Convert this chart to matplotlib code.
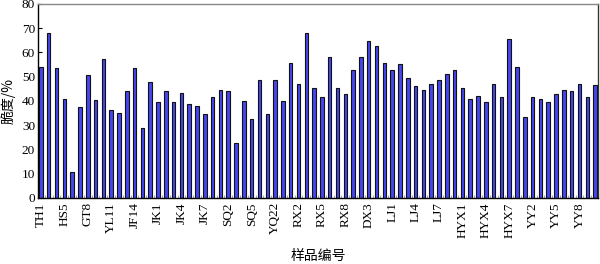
import numpy as np
import matplotlib.pyplot as plt
from matplotlib.ticker import FixedLocator

tick_labels = ['TH1', 'HS5', 'GT8', 'YL11', 'JF14', 'JK1', 'JK4', 'JK7', 'SQ2', 'SQ5',
               'YQ22', 'RX2', 'RX5', 'RX8', 'DX3', 'LJ1', 'LJ4', 'LJ7', 'HYX1', 'HYX4',
               'HYX7', 'YY2', 'YY5', 'YY8']

brittleness = [53.9, 68.1, 53.4, 40.8, 10.7, 37.6, 50.7, 40.3, 57.3, 36.1,
               35.1, 44.3, 53.4, 28.8, 47.7, 39.5, 44.3, 39.5, 43.4, 38.7,
               37.9, 34.8, 41.5, 44.6, 44.3, 22.8, 39.9, 32.6, 48.7, 34.8,
               48.5, 39.9, 55.5, 46.8, 68.2, 45.3, 41.5, 58.1, 45.3, 42.9,
               52.6, 58.1, 64.6, 62.7, 55.8, 52.6, 55.4, 49.6, 46.1, 44.6,
               47.2, 48.5, 51.1, 52.6, 45.3, 40.8, 42.1, 39.5, 47.2, 41.7,
               65.6, 53.9, 33.3, 41.5, 41.0, 39.5, 42.9, 44.6, 44.3, 47.2,
               41.5, 46.5]

x = np.arange(len(brittleness))

plt.rcParams['font.family'] = ['Liberation Serif', 'Noto Sans CJK SC']

fig = plt.figure(figsize=(6, 2.64), dpi=100)
ax = fig.add_axes([0.063, 0.25, 0.934, 0.735])

# soft shadow to the right of each bar
ax.bar(x + 0.1, brittleness, width=0.45, color='#b0b0b0', edgecolor='none', zorder=1)
ax.bar(x, brittleness, width=0.45, color='#4646f0', edgecolor='#111111',
       linewidth=0.8, zorder=2)

ax.set_xlim(-0.4, 71.4)
ax.set_ylim(0, 80)
ax.set_yticks(range(0, 81, 10))
ax.set_xticks(x[::3])
ax.set_xticklabels(tick_labels, rotation=90, fontsize=9.5)
ax.xaxis.set_minor_locator(FixedLocator(x + 0.5))
ax.tick_params(axis='y', direction='in', length=3, labelsize=9.5, pad=2)
ax.tick_params(axis='x', which='major', direction='in', length=2, color='#999999', pad=3)
ax.tick_params(axis='x', which='minor', direction='in', length=2, color='#999999')

ax.spines['top'].set_color('#888888')
ax.spines['right'].set_color('#333333')
for s in ax.spines.values():
    s.set_linewidth(1.0)

ax.set_ylabel('脆度/%', fontsize=10, family=['Noto Sans CJK SC'], labelpad=4)
fig.text(0.53, 1 - 256 / 264, '样品编号', fontsize=10, family=['Noto Sans CJK SC'],
         ha='center', va='center')

fig.savefig('out.png', dpi=100)
